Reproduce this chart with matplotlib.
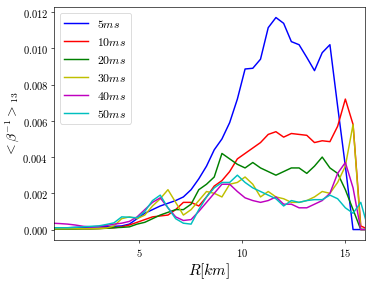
import numpy as np
import matplotlib
matplotlib.use("Agg")
import matplotlib.pyplot as plt

plt.rcParams['font.family'] = 'serif'
plt.rcParams['font.serif'] = ['cmr10', 'DejaVu Serif']
plt.rcParams['mathtext.fontset'] = 'cm'
plt.rcParams['axes.formatter.use_mathtext'] = True
plt.rcParams['axes.unicode_minus'] = False

# radial grid (km)
R = np.arange(2, 44) * 0.376

labels = ['$5ms$', '$10ms$', '$20ms$', '$30ms$', '$40ms$', '$50ms$']
colors = ['b', 'r', 'g', 'y', 'm', 'c']

beta_5 = [0.0001, 0.0001, 0.0001, 0.00012, 0.00012, 0.00014, 0.00015, 0.00016, 0.00018, 0.0002,
          0.0003, 0.0006, 0.0009, 0.0011, 0.0013, 0.00145, 0.0016, 0.0018, 0.0022, 0.0028,
          0.0035, 0.0044, 0.0050, 0.0059, 0.0072, 0.00886, 0.0089, 0.0094, 0.01114, 0.0117,
          0.01138, 0.01037, 0.0102, 0.0095, 0.00877, 0.00976, 0.0102, 0.0068, 0.0035, 0.0,
          0.0, 0.0]
beta_10 = [0.00005, 0.00005, 0.00005, 0.00005, 0.00005, 0.00005, 0.00006, 0.00008, 0.0001, 0.00015,
           0.00025, 0.0004, 0.00055, 0.0007, 0.00075, 0.0008, 0.0011, 0.0015, 0.0015, 0.0013,
           0.0018, 0.0024, 0.0027, 0.0032, 0.0039, 0.0042, 0.0045, 0.0048, 0.00525, 0.0054,
           0.0051, 0.0053, 0.00525, 0.0052, 0.0048, 0.0049, 0.00485, 0.0057, 0.0072, 0.0058,
           0.0002, 0.0]
beta_20 = [0.00003, 0.00003, 0.00003, 0.00003, 0.00004, 0.00004, 0.00005, 0.00007, 0.0001, 0.00012,
           0.00015, 0.0003, 0.0004, 0.0006, 0.0008, 0.00095, 0.0011, 0.0011, 0.0014, 0.0022,
           0.0025, 0.0029, 0.0042, 0.0039, 0.0036, 0.0034, 0.0037, 0.0034, 0.0032, 0.0030,
           0.0032, 0.0034, 0.0034, 0.0031, 0.0035, 0.0040, 0.0034, 0.0031, 0.0022, 0.0011,
           0.0, 0.0]
beta_30 = [0.00005, 0.00005, 0.00005, 0.00005, 0.00005, 0.00005, 0.00005, 0.00008, 0.0002, 0.0006,
           0.0007, 0.0006, 0.0008, 0.0013, 0.0017, 0.0022, 0.0015, 0.0008, 0.0011, 0.0016,
           0.0021, 0.0020, 0.0018, 0.0025, 0.0026, 0.0029, 0.0025, 0.0018, 0.0021, 0.0018,
           0.0017, 0.0015, 0.0015, 0.0016, 0.0018, 0.0021, 0.0020, 0.0026, 0.0035, 0.0058,
           0.0, 0.0]
beta_40 = [0.00035, 0.00033, 0.0003, 0.00025, 0.00018, 0.00015, 0.00018, 0.00022, 0.0003, 0.00035,
           0.00045, 0.0007, 0.0011, 0.0015, 0.00175, 0.0012, 0.0007, 0.0005, 0.00055, 0.0010,
           0.0015, 0.0020, 0.0025, 0.0025, 0.0021, 0.00175, 0.0016, 0.0015, 0.0016, 0.0018,
           0.0014, 0.0014, 0.0012, 0.0012, 0.0014, 0.0016, 0.0020, 0.0031, 0.0037, 0.0023,
           0.0, 0.0]
beta_50 = [0.0001, 0.0001, 0.0001, 0.00012, 0.00015, 0.00018, 0.0002, 0.00028, 0.00037, 0.0007,
           0.00068, 0.00065, 0.0010, 0.0016, 0.0019, 0.0012, 0.0006, 0.00035, 0.0003, 0.0011,
           0.0018, 0.0023, 0.0026, 0.0026, 0.0030, 0.0026, 0.0023, 0.0021, 0.0019, 0.0017,
           0.0013, 0.0016, 0.0015, 0.0016, 0.00165, 0.00165, 0.0019, 0.0017, 0.0012, 0.0009,
           0.0015, 0.0]

series = [beta_5, beta_10, beta_20, beta_30, beta_40, beta_50]

fig, ax = plt.subplots(figsize=(6.4, 4.82), dpi=58.44)
fig.subplots_adjust(left=0.144, right=0.976, top=0.973, bottom=0.145)

for vals, lab, col in zip(series, labels, colors):
    ax.plot(R, vals, color=col, lw=1.8, label=lab)

ax.set_xlim(0.83, 16.0)
ax.set_xticks([5, 10, 15])
ax.tick_params(labelsize=13)
ax.set_xlabel('$R[km]$', fontsize=19)
ax.set_ylabel(r'$<\beta^{-1}>_{13}$', fontsize=17, labelpad=2)
ax.legend(loc='upper left', fontsize=14.5)

fig.savefig('out.png', dpi=58.44)
